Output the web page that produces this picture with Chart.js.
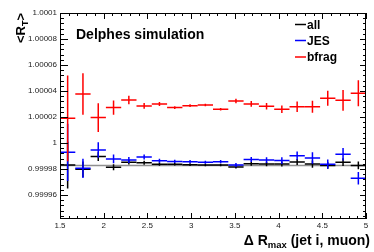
<!DOCTYPE html>
<html>
<head>
<meta charset="utf-8">
<script src="https://cdn.jsdelivr.net/npm/chart.js@4.4.1/dist/chart.umd.min.js"></script>
<style>
  html, body { margin: 0; padding: 0; background: #fff; }
  #wrap { width: 374px; height: 252px; }
</style>
</head>
<body>
<div id="wrap"><canvas id="chart" width="374" height="252"></canvas></div>
<script>
// ── Data ─────────────────────────────────────────────
const binCenters = [1.5875, 1.7625, 1.9375, 2.1125, 2.2875, 2.4625, 2.6375, 2.8125, 2.9875, 3.1625,
                    3.3375, 3.5125, 3.6875, 3.8625, 4.0375, 4.2125, 4.3875, 4.5625, 4.7375, 4.9125];
const binHalfWidth = 0.0875;

const allVals = [0.9999830, 0.9999798, 0.9999895, 0.9999813, 0.9999852, 0.9999848, 0.9999837, 0.9999836, 0.9999833, 0.9999831,
                 0.9999831, 0.9999815, 0.9999840, 0.9999838, 0.9999838, 0.9999854, 0.9999838, 0.9999827, 0.9999852, 0.9999827];
const allErr  = [1.8e-5, 6e-6, 3.4e-6, 2.3e-6, 1.8e-6, 1.5e-6, 1.2e-6, 1e-6, 1e-6, 1e-6,
                 1e-6, 1.2e-6, 1.5e-6, 1.8e-6, 2e-6, 2.3e-6, 2.8e-6, 2.5e-6, 3e-6, 3e-6];

const jesVals = [0.9999928, 0.9999805, 0.9999946, 0.9999877, 0.9999869, 0.9999892, 0.9999863, 0.9999858, 0.9999856, 0.9999852,
                 0.9999856, 0.9999831, 0.9999873, 0.9999868, 0.9999865, 0.9999902, 0.9999885, 0.9999837, 0.9999914, 0.9999728];
const jesErr  = [2.2e-5, 7.4e-6, 6e-6, 3.4e-6, 2.3e-6, 2e-6, 1.5e-6, 1.2e-6, 1.2e-6, 1.2e-6,
                 1.3e-6, 1.5e-6, 2e-6, 2.3e-6, 2.6e-6, 3.2e-6, 4.4e-6, 3.5e-6, 4.8e-6, 4.8e-6];

const bfragVals = [1.0000190, 1.0000377, 1.0000195, 1.0000272, 1.0000331, 1.0000285, 1.0000300, 1.0000272, 1.0000287, 1.0000292,
                   1.0000259, 1.0000323, 1.0000300, 1.0000282, 1.0000259, 1.0000279, 1.0000279, 1.0000344, 1.0000328, 1.0000382];
const bfragErr  = [3.3e-5, 1.6e-5, 1.1e-5, 5.5e-6, 3.3e-6, 2.2e-6, 1.5e-6, 1e-6, 1e-6, 1e-6,
                   1e-6, 1.7e-6, 2.2e-6, 2.5e-6, 2.9e-6, 4e-6, 4.6e-6, 5.8e-6, 8e-6, 1e-5];

const fitX = [1.5, 5];
const fitY = [0.9999827, 0.9999827];

const xTickVals   = [1.5, 2, 2.5, 3, 3.5, 4, 4.5, 5];
const xTickLabels = ["1.5", "2", "2.5", "3", "3.5", "4", "4.5", "5"];
const yTickVals   = [0.99996, 0.99998, 1, 1.00002, 1.00004, 1.00006, 1.00008, 1.0001];
const yTickLabels = ["0.99996", "0.99998", "1", "1.00002", "1.00004", "1.00006", "1.00008", "1.0001"];

const legendNames  = ["all", "JES", "bfrag"];
const legendColors = ["#000000", "#0000ff", "#ff0000"];

// ── Helpers ──────────────────────────────────────────
const FONT = "'Liberation Sans', Arial, Helvetica, sans-serif";
const pts = (xs, ys) => xs.map((x, i) => ({ x, y: ys[i] }));

function series(name, vals, err, color) {
  return {
    label: name, data: pts(binCenters, vals), errY: err,
    borderColor: color, backgroundColor: color,
    pointRadius: 0, showLine: false
  };
}

// draws text pieces in sequence, some as subscripts
function drawRich(ctx, parts, x, y, align) {
  let total = 0;
  parts.forEach(p => { ctx.font = p.font; total += ctx.measureText(p.t).width; });
  let cx = align === "right" ? x - total : x;
  ctx.textAlign = "left";
  parts.forEach(p => {
    ctx.font = p.font;
    ctx.fillText(p.t, cx, y + (p.dy || 0));
    cx += ctx.measureText(p.t).width;
  });
}

// ── ROOT-like frame, ticks, error bars ───────────────
const rootStyle = {
  id: "rootStyle",
  afterDatasetsDraw(chart) {
    const { ctx, chartArea: a, scales: { x: xs, y: ys } } = chart;
    ctx.save();
    ctx.beginPath();
    ctx.rect(a.left, a.top, a.right - a.left, a.bottom - a.top);
    ctx.clip();
    ctx.lineWidth = 1.5;
    chart.data.datasets.forEach(ds => {
      if (!ds.errY) return;
      ctx.strokeStyle = ds.borderColor;
      ds.data.forEach((p, i) => {
        const px = xs.getPixelForValue(p.x), py = ys.getPixelForValue(p.y);
        const xl = xs.getPixelForValue(p.x - binHalfWidth), xr = xs.getPixelForValue(p.x + binHalfWidth);
        const yt = ys.getPixelForValue(p.y + ds.errY[i]), yb = ys.getPixelForValue(p.y - ds.errY[i]);
        ctx.beginPath();
        ctx.moveTo(xl, py); ctx.lineTo(xr, py);
        ctx.moveTo(px, yt); ctx.lineTo(px, yb);
        ctx.stroke();
      });
    });
    ctx.restore();
  },
  afterDraw(chart) {
    const { ctx, chartArea: a, scales: { x: xs, y: ys } } = chart;
    ctx.save();
    ctx.strokeStyle = "#000";
    ctx.lineWidth = 1;
    ctx.strokeRect(a.left + 0.5, a.top + 0.5, a.right - a.left - 1, a.bottom - a.top - 1);

    // x ticks (major + minor), bottom and top, pointing inward
    ctx.beginPath();
    for (let k = 0; k <= 35; k++) {
      const v = 1.5 + k * 0.1;
      const px = Math.round(xs.getPixelForValue(v)) + 0.5;
      const len = k % 5 === 0 ? 6 : 3;
      ctx.moveTo(px, a.bottom); ctx.lineTo(px, a.bottom - len);
      ctx.moveTo(px, a.top);    ctx.lineTo(px, a.top + len);
    }
    // y ticks, left and right
    for (let k = -15; k <= 25; k++) {
      const v = 1 + k * 0.000004;
      if (v < ys.min - 1e-12 || v > ys.max + 1e-12) continue;
      const py = Math.round(ys.getPixelForValue(v)) + 0.5;
      const major = k % 5 === 0;
      ctx.moveTo(a.left, py);  ctx.lineTo(a.left + (major ? 8 : 4), py);
      ctx.moveTo(a.right, py); ctx.lineTo(a.right - (major ? 6 : 3), py);
    }
    ctx.stroke();

    // tick labels
    ctx.fillStyle = "#222";
    ctx.font = "8px " + FONT;
    ctx.textBaseline = "middle";
    ctx.textAlign = "right";
    yTickVals.forEach((v, i) => ctx.fillText(yTickLabels[i], a.left - 3, ys.getPixelForValue(v)));
    ctx.textAlign = "center";
    ctx.textBaseline = "top";
    xTickVals.forEach((v, i) => ctx.fillText(xTickLabels[i], xs.getPixelForValue(v), a.bottom + 3));

    // title
    ctx.fillStyle = "#000";
    ctx.textBaseline = "alphabetic";
    ctx.textAlign = "left";
    ctx.font = "bold 14px " + FONT;
    ctx.fillText("Delphes simulation", 76, 39);

    // x axis title
    drawRich(ctx, [
      { t: "\u0394 R", font: "bold 14px " + FONT },
      { t: "max", font: "bold 9.5px " + FONT, dy: 3 },
      { t: " (jet i, muon)", font: "bold 14px " + FONT }
    ], 370, 245, "right");

    // y axis title, rotated
    ctx.save();
    ctx.translate(24.5, 13);
    ctx.rotate(-Math.PI / 2);
    drawRich(ctx, [
      { t: "<R", font: "bold 13px " + FONT },
      { t: "T", font: "bold 9px " + FONT, dy: 3 },
      { t: ">", font: "bold 13px " + FONT }
    ], 0, 0, "right");
    ctx.restore();

    // legend
    const base = [28.5, 44.5, 61];
    ctx.font = "bold 12px " + FONT;
    ctx.lineWidth = 1.5;
    legendNames.forEach((n, i) => {
      ctx.strokeStyle = legendColors[i];
      ctx.beginPath();
      ctx.moveTo(295, base[i] - 4); ctx.lineTo(306, base[i] - 4);
      ctx.stroke();
      ctx.fillStyle = "#000";
      ctx.fillText(n, 307, base[i]);
    });
    ctx.restore();
  }
};

new Chart(document.getElementById("chart"), {
  type: "scatter",
  data: {
    datasets: [
      { type: "line", data: pts(fitX, fitY), borderColor: "#909090", borderWidth: 1.5, pointRadius: 0, fill: false },
      series("all",   allVals,   allErr,   "#000000"),
      series("JES",   jesVals,   jesErr,   "#0000ff"),
      series("bfrag", bfragVals, bfragErr, "#ff0000")
    ]
  },
  options: {
    responsive: false,
    animation: false,
    devicePixelRatio: 1,
    layout: { padding: { left: 60, right: 8, top: 13, bottom: 33 } },
    plugins: { legend: { display: false }, tooltip: { enabled: false } },
    scales: {
      x: { type: "linear", min: 1.5, max: 5, display: false },
      y: { type: "linear", min: 0.9999415, max: 1.0001, display: false }
    }
  },
  plugins: [rootStyle]
});
</script>
</body>
</html>
